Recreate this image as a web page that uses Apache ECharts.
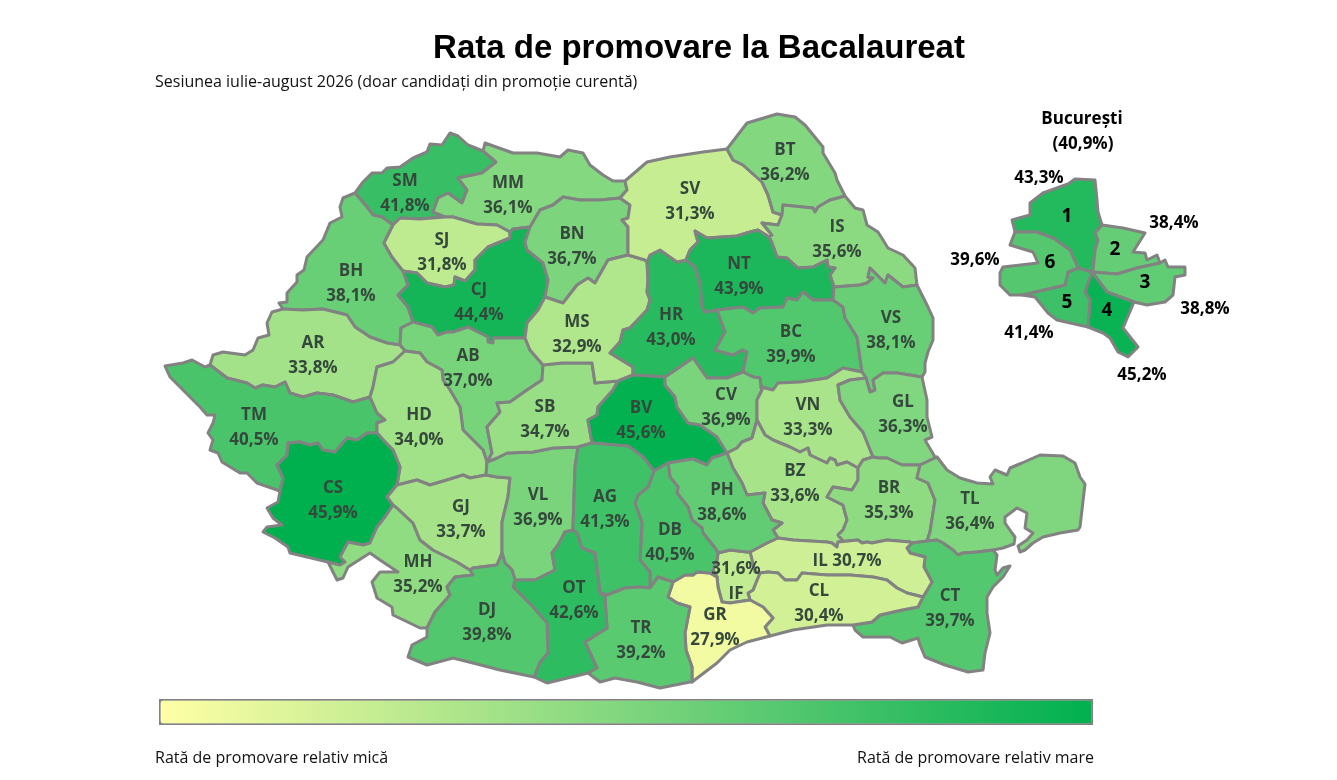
<!DOCTYPE html>
<html><head><meta charset="utf-8">
<style>html,body{margin:0;padding:0;background:#fff}#c{width:1337px;height:780px}</style>
<script src="https://cdn.jsdelivr.net/npm/echarts@6/dist/echarts.min.js"></script>
</head><body><div id="c"></div>
<script>
// ---------- values ----------
const counties = ['SM','MM','SJ','BH','CJ','BN','SV','BT','IS','NT','HR','MS','BC','VS','AR','AB','TM','HD','SB','BV','CV','VN','GL','CS','GJ','VL','AG','DB','PH','BZ','BR','TL','MH','OT','DJ','TR','GR','CL','CT','IL','IF'];
const countyRates = [41.8,36.1,31.8,38.1,44.4,36.7,31.3,36.2,35.6,43.9,43.0,32.9,39.9,38.1,33.8,37.0,40.5,34.0,34.7,45.6,36.9,33.3,36.3,45.9,33.7,36.9,41.3,40.5,38.6,33.6,35.3,36.4,35.2,42.6,39.8,39.2,27.9,30.4,39.7,30.7,31.6];
const sectors = ['1','2','3','4','5','6'];
const sectorRates = [43.3,38.4,38.8,45.2,41.4,39.6];
const bucharestRate = 40.9;
const scaleColors = ['#ffffa6','#c0eb90','#7fd67e','#40c168','#00b04f'];

// ---------- map geometry (borders between regions, in a flipped plane) ----------
const borders = {
SMo:'355,193 363,182 372,173 382,173 387,168 400,167 413,158 427,152 430,144 442,145 450,133 458,136 468,145 483,151',
SMMM:'483,151 496,162 482,173 458,178 467,190 462,203 448,193 438,198 433,212 445,217',
SMSJ:'445,217 420,219 400,218 393,225',
SMBH:'393,225 382,217 373,215 367,207 355,193',
BHo:'355,193 343,198 340,207 342,217 330,223 323,240 307,257 304,270 297,275 297,282 287,293 287,302 279,303 283,309',
BHAR:'283,309 303,310 323,309 347,315 355,327 370,337 387,343 400,345',
BHAB:'400,345 401,328 413,322',
BHCJ:'413,322 408,307 398,295 408,285 403,271',
BHSJ:'403,271 392,257 384,243 393,225',
SJCJ:'403,271 417,273 427,283 445,287 454,285 455,277 465,281 475,270 475,260 488,247 510,238 510,232',
SJMM:'445,217 453,217 477,224 497,225 510,232',
CJMM:'510,232 513,229 530,227',
CJBN:'530,227 525,242 527,250 543,263 548,280 545,297',
CJMS:'545,297 538,310 527,323 525,338',
CJAB:'525,338 513,338 493,338 493,343 488,342 488,337 468,327 453,332 447,332 438,335 432,327 417,323 413,322',
ABMS:'525,338 530,350 543,365',
ABSB:'543,365 542,380 527,390 510,402 497,403 500,412 487,427 492,453 487,462',
ABHD:'405,351 420,353 427,362 442,370 443,380 450,390 460,407 463,430 483,450 487,462',
ARAB:'400,345 405,351',
ARo:'283,309 272,312 267,323 269,335 258,338 253,350 245,355 223,352 213,355 210,365',
ARTM:'210,365 227,378 247,383 255,388 263,385 275,387 285,382 290,393 303,397 317,393 333,395 353,402 370,397',
ARHD:'370,397 373,387 377,367 393,362 405,351',
TMo:'210,365 205,367 192,360 183,363 165,366 170,377 180,387 193,400 200,407 207,415 215,415 213,423 208,433 213,440 210,450 218,453 222,462 240,473 247,473 257,483 280,491',
TMCS:'280,491 283,478 277,465 287,455 288,443 300,442 310,445 318,443 323,450 335,452 347,438 357,440 367,433 377,433',
TMHD:'377,433 377,423 385,420 377,413 370,397',
CSo:'280,491 278,502 267,508 273,518 282,525 267,527 263,532 275,538 288,547 290,553 307,557 328,562',
CSMH:'328,562 332,563 340,565 345,562 340,557 348,542 363,545 370,543 377,527 385,517 393,505',
CSGJ:'393,505 387,497 397,485',
CSHD:'397,485 400,467 393,450 385,442 377,433',
HDGJ:'397,485 417,480 430,485 447,480 463,475 470,478 486,475',
HDVL:'486,475 487,462',
SBVL:'487,462 497,458 507,453 533,452 553,448 578,447',
SBAG:'578,447 592,443',
SBBV:'592,443 588,420 597,415 598,407 613,390 618,381',
SBMS:'543,365 562,363 592,363 595,383 618,381',
MSBV:'618,381 633,375',
BVAG:'592,443 628,446 643,457 654,471',
BVDB:'654,471 668,463',
BVPH:'668,463 693,459 707,465 712,458 727,453',
BVCV:'727,453 717,437 700,425 688,423 677,407 675,397 665,385 665,377',
BVHR:'665,377 633,375',
MSBN:'545,297 563,303 577,285 588,278 595,283 608,260 628,255',
MSSV:'628,255 645,260 647,262',
MSHR:'647,262 648,280 647,292 650,300 647,310 630,328 623,330 620,342 610,353 633,367 633,375',
HRSV:'647,262 650,255 660,250 677,262 686,260',
HRNT:'686,260 695,267 700,283 702,307 705,312 717,310',
HRBC:'717,310 725,332 715,350 733,355 742,350 747,352 743,372',
HRCV:'743,372 727,378 707,378 693,358 680,367 665,377',
SVo:'625,181 647,162 670,157 703,152 727,149',
SVBT:'727,149 733,160 743,165 762,182 768,195 773,212 782,215',
SVIS:'782,215 778,225 762,223 772,235 769,237',
SVNT:'769,237 758,230 750,232 737,236 707,238 695,231 698,242 690,250 686,260',
MMSV:'625,181 627,190 620,198',
SVBN:'620,198 630,205 628,218 622,220 628,227 628,255',
MMo:'483,151 485,143 513,153 537,153 560,157 568,150 583,153 590,165 603,175 613,181 625,181',
MMBN:'530,227 540,210 553,205 563,197 580,200 600,200 620,198',
BTo:'727,149 747,123 777,114 795,117 805,125 823,147 823,153 835,173 837,180 845,196',
BTIS:'845,196 838,198 830,200 818,207 815,212 813,208 783,205 782,215',
ISo:'845,196 855,208 863,210 867,225 878,232 888,248 903,255 915,268 917,285',
ISVS:'917,285 903,287 888,275 885,283 870,268 868,277 873,278 867,283 860,285 834,287',
ISNT:'834,287 830,275 835,268 828,267 827,260 813,267 798,268 787,258 777,257 772,243 769,237',
NTVS:'834,287 833,300',
NTBC:'833,300 813,300 803,292 797,300 787,298 783,307 760,308 753,313 743,307 717,310',
BCVS:'833,300 843,307 845,318 857,337 862,372',
BCVN:'862,372 843,368 827,378 800,382 778,383 773,390 761,387',
BCCV:'761,387 760,378 753,377 743,372',
VSVN:'862,372 866,378',
VNGL:'866,378 850,380 838,385 840,400 850,417 863,432 873,457',
VSGL:'866,378 870,392 875,390 873,380 883,373 897,373 922,377',
VSo:'917,285 928,307 933,318 933,340 928,352 925,363 925,372 922,377',
GLo:'922,377 927,400 927,417 932,437 925,440 935,457 937,457',
GLTL:'937,457 920,465',
GLBR:'920,465 902,465 887,458 878,458 873,457',
CVVN:'761,387 762,390 757,400 757,420',
CVBZ:'757,420 752,438 742,442 737,448 727,453',
VNBZ:'757,420 765,435 773,440 790,447 800,452 808,448 810,455 827,463 830,458 835,460 837,465 847,462 858,468',
VNBR:'858,468 863,460 873,457',
BZBR:'858,468 858,480 852,490 833,487 827,497 843,505 847,520 843,530 838,535 845,543 837,547',
BZIL:'837,547 832,543 827,542 793,540 778,538',
BZPH:'778,538 773,530 782,523 772,520 763,503 765,493 747,495 742,483 733,468 727,453',
BRIL:'837,547 838,542 858,540 862,543 867,542 872,543 887,540 910,542 912,543',
BRCT:'912,543 927,541',
BRTL:'927,541 930,532 935,500 928,483 917,478 920,465',
TLo:'937,457 947,470 960,478 977,483 993,484 990,477 995,470 1007,475 1010,468 1022,463 1040,455 1063,456 1075,463 1080,477 1085,484 1080,527 1078,530 1060,533 1043,537 1033,543 1025,550 1020,552 1018,546 1027,540 1033,533 1025,528 1027,513 1017,508 1005,517 1005,523 1012,533 1015,537 1014,544 1003,548 993,550',
TLCT:'993,550 977,552 963,553 958,555 953,550 943,543 937,540 927,541',
CTIL:'912,543 907,548 910,553 925,557 924,567 932,582 923,597',
CTCL:'923,597 918,607 902,610 880,615 872,622 853,625',
CTo:'853,625 855,630 863,637 890,637 902,643 918,638 920,645 925,657 945,665 968,672 983,670 985,653 990,633 987,613 987,597 993,587 1003,577 1010,566 1003,568 997,575 995,570 997,555 993,550',
ILCL:'923,597 907,593 897,588 887,580 873,577 850,575 827,575 802,573 797,580 785,580 778,573 768,572 760,573',
ILPH:'778,538 767,543 750,552',
ILIF:'750,552 755,572 760,573',
CLIF:'760,573 757,580 753,590 748,593 750,600',
CLGR:'750,600 763,607 773,618 765,627 770,636',
CLo:'770,636 793,630 827,625 853,625',
GRo:'770,636 747,642 730,650 717,663 692,682',
GRTR:'692,682 692,667 686,650 685,633 690,607 677,603 668,597 673,582',
GRDB:'673,582 685,575 693,575 697,572 710,573 717,577',
GRIF:'717,577 718,587 722,602 730,603 750,600',
DBIF:'717,577 713,570 717,560 718,553',
IFPH:'718,553 730,550 747,552 750,552',
DBPH:'718,553 715,548 703,533 702,528 692,520 688,507 677,493 678,487 670,477 668,463',
AGDB:'654,471 648,487 638,495 635,503 642,523 640,560 650,572 650,588',
DBTR:'650,588 658,577 673,582',
AGTR:'650,588 640,587 625,588 607,595 600,593',
AGOT:'600,593 595,553 582,548 577,533 573,530',
AGVL:'578,447 575,467 573,527 573,530',
OTVL:'573,530 565,532 558,545 552,553 555,570 535,580 515,580',
VLGJ:'486,475 497,477 510,478 508,497 502,522 502,553',
VLDJ:'502,553 505,563 512,570 515,580',
GJDJ:'502,553 497,565 473,568 470,570',
GJMH:'470,570 457,562 433,550 420,540 413,523 397,508 393,505',
MHDJ:'470,570 473,575 455,577 447,587 450,595 435,612 427,628',
MHo:'328,562 332,570 337,580 343,578 348,567 370,553 380,560 398,572 380,572 372,582 377,598 392,607 393,615 420,628 427,628',
DJo:'427,628 427,637 412,645 408,657 427,665 453,658 473,663 500,670 534,677',
DJOT:'534,677 540,662 548,653 547,623 533,607 513,587 515,580',
OTo:'534,677 547,683 580,675 588,673',
OTTR:'600,593 605,597 607,628 585,642 597,668 588,673',
TRo:'588,673 600,682 615,678 637,682 660,688 690,682 692,682',
S1o:'1015,232 1012,220 1030,215 1030,203 1043,193 1068,184 1075,179 1095,180 1097,200 1098,212 1102,225',
S12:'1102,225 1095,233 1098,240 1095,250 1093,270 1092,272',
S16:'1078,268 1070,250 1053,238 1037,232 1015,232',
S15c:'1078,268 1092,272',
S2o:'1102,225 1123,228 1145,233 1133,252 1145,253 1147,260 1157,255 1160,263',
S23:'1160,263 1137,268 1117,274 1092,272',
S3o:'1160,263 1165,260 1168,267 1178,267 1185,267 1185,275 1175,277 1173,295 1165,302 1147,305 1134,302',
S34:'1134,302 1107,292 1098,280 1092,272',
S4o:'1134,302 1123,328 1138,347 1128,357 1118,352 1110,338 1103,333 1088,327',
S45:'1088,327 1090,300 1085,292 1092,272',
S5o:'1088,327 1057,320 1048,313 1035,297 1022,295',
S56:'1022,295 1065,285 1068,272 1078,268',
S6o:'1022,295 1010,295 1000,285 1000,273 1003,267 1038,263 1033,252 1010,245 1015,232'
};
const rings = {
SM:'SMo SMMM SMSJ SMBH', BH:'BHo BHAR BHAB BHCJ BHSJ SMBH', MM:'MMo MMSV MMBN CJMM SJMM SMMM', SJ:'SMSJ SJMM SJCJ BHSJ',
CJ:'BHCJ SJCJ CJMM CJBN CJMS CJAB', BN:'MMBN SVBN MSBN CJBN', AB:'BHAB CJAB ABMS ABSB ABHD ARAB', AR:'ARo ARTM ARHD ARAB BHAR',
TM:'TMo TMCS TMHD ARTM', HD:'ARHD ABHD HDVL HDGJ CSHD TMHD', CS:'TMCS CSHD CSGJ CSMH CSo', MH:'CSMH GJMH MHDJ MHo',
GJ:'HDGJ VLGJ GJDJ GJMH CSGJ', VL:'HDVL SBVL AGVL OTVL VLDJ VLGJ', SB:'ABSB SBVL SBAG SBBV SBMS', MS:'CJMS MSBN MSSV MSHR MSBV SBMS ABMS',
HR:'HRSV HRNT HRBC HRCV BVHR MSHR', BV:'SBBV MSBV BVHR BVCV BVPH BVDB BVAG', SV:'SVo SVBT SVIS SVNT HRSV MSSV SVBN MMSV', BT:'BTo BTIS SVBT',
IS:'BTIS ISo ISVS ISNT SVIS', NT:'SVNT ISNT NTVS NTBC HRNT', BC:'NTBC BCVS BCVN BCCV HRBC', VS:'ISVS VSo VSGL VSVN BCVS NTVS',
CV:'BVCV HRCV BCCV CVVN CVBZ', VN:'BCVN VSVN VNGL VNBR VNBZ CVVN', GL:'VSGL GLo GLTL GLBR VNGL', BZ:'CVBZ VNBZ BZBR BZIL BZPH',
BR:'VNBR GLBR BRTL BRCT BRIL BZBR', TL:'GLTL TLo TLCT BRTL', CT:'BRCT TLCT CTo CTCL CTIL', IL:'BZIL BRIL CTIL ILCL ILIF ILPH',
CL:'ILCL CTCL CLo CLGR CLIF', IF:'IFPH ILIF CLIF GRIF DBIF', GR:'GRDB GRIF CLGR GRo GRTR', PH:'BVPH BZPH ILPH IFPH DBPH',
DB:'BVDB DBPH DBIF GRDB DBTR AGDB', AG:'SBAG BVAG AGDB AGTR AGOT AGVL', TR:'DBTR GRTR TRo OTTR AGTR', OT:'AGOT OTTR OTo DJOT OTVL',
DJ:'GJDJ VLDJ DJOT DJo MHDJ',
'1':'S1o S12 S15c S16','2':'S2o S23 S12','3':'S3o S34 S23','4':'S4o S45 S34','5':'S5o S56 S15c S45','6':'S6o S16 S56'
};
const labelAnchors = {
SM:[405,193.5],MM:[508,195.5],SJ:[442,252.5],BH:[351,283.5],CJ:[479,302.5],BN:[572,246.5],SV:[690,201.5],BT:[785,162.5],IS:[837,239.5],NT:[739,276.5],HR:[671,327.5],MS:[577,334.5],BC:[791,344.5],VS:[891,330.5],AR:[313,355.5],AB:[468,368.5],TM:[254,427.5],HD:[419,427.5],SB:[545,419.5],BV:[641,420.5],CV:[726,407.5],VN:[808,417.5],GL:[903,414.5],CS:[333,500.5],GJ:[461,519.5],VL:[538,507.5],AG:[605,509.5],DB:[670,542.5],PH:[722,502.5],BZ:[795,483.5],BR:[889,500.5],TL:[970,511.5],MH:[418,574.5],OT:[574,600.5],DJ:[487,622.5],TR:[641,640.5],GR:[715,627.5],CL:[819,603.5],CT:[950,608.5],IL:[847,561],IF:[736,581.5],
'1':[1067,217],'2':[1115,250],'3':[1145,283],'4':[1107,311],'5':[1067,303],'6':[1050,263]
};
const sectorRateAnchors = [[1039,178],[1174,223],[1205,309],[1142,375],[1029,333],[975,260]];

// ---------- build ----------
const parseArc = s => s.split(' ').map(p => p.split(',').map(Number));
const same = (a,b) => a[0]===b[0] && a[1]===b[1];
function buildRing(name){
  const arcs = rings[name].split(' ').map(k => { if(!borders[k]) throw new Error('arc '+k); return parseArc(borders[k]); });
  let cur = arcs[0].slice();
  const n1 = arcs[1];
  if (same(cur[0],n1[0]) || same(cur[0],n1[n1.length-1])) {
    if (!(same(cur[cur.length-1],n1[0]) || same(cur[cur.length-1],n1[n1.length-1]))) cur.reverse();
  }
  const out = cur.slice();
  for (let i=1;i<arcs.length;i++){
    let a = arcs[i].slice();
    const end = out[out.length-1];
    if (same(a[a.length-1],end)) a.reverse();
    else if (!same(a[0],end)) throw new Error('gap in '+name+' at '+rings[name].split(' ')[i]);
    out.push(...a.slice(1));
  }
  return out.map(p => [p[0],-p[1]]);
}
const geo = {type:'FeatureCollection',features:Object.keys(rings).map(name => ({
  type:'Feature',
  properties:{name, cp:[labelAnchors[name][0],-labelAnchors[name][1]]},
  geometry:{type:'Polygon',coordinates:[buildRing(name)]}
}))};
echarts.registerMap('ro',geo);

const fmt = v => v.toFixed(1).replace('.',',')+'%';
const rateOf = {};
counties.forEach((c,i)=>rateOf[c]=countyRates[i]);
sectors.forEach((c,i)=>rateOf[c]=sectorRates[i]);
const mapData = Object.keys(rateOf).map(name=>{
  const item = {name,value:rateOf[name]};
  if (sectors.includes(name)) item.label = {color:'#000',fontSize:19};
  return item;
});
const view = {left:0,top:0,width:1337,height:780,aspectScale:1,boundingCoords:[[0,0],[1337,-780]],roam:false};
const FONT = '"Open Sans","Noto Sans",sans-serif';
const txt = (text,x,y,font,align,fill) => ({type:'text',x,y,silent:true,style:{text,font,textAlign:align,textVerticalAlign:'middle',fill:fill||'#111'}});

const chart = echarts.init(document.getElementById('c'));
chart.setOption({
  animation:false,
  backgroundColor:'#fff',
  geo:Object.assign({map:'ro',silent:true,itemStyle:{areaColor:'transparent',borderWidth:0},label:{show:false},emphasis:{disabled:true}},view),
  visualMap:{type:'continuous',min:27,max:45.9,orient:'horizontal',calculable:false,realtime:false,hoverLink:false,
    seriesIndex:0,left:159,top:699,itemWidth:23,itemHeight:931,padding:0,text:null,showLabel:false,
    borderColor:'#828282',borderWidth:3,inRange:{color:scaleColors}},
  series:[
    Object.assign({type:'map',map:'ro',silent:true,data:mapData,z:2,
      itemStyle:{borderColor:'#828282',borderWidth:3,borderJoin:'round'},
      label:{show:true,color:'#35483c',fontFamily:FONT,fontWeight:'bold',fontSize:17,lineHeight:24.5,
        formatter:p=>{
          if(sectors.includes(p.name)) return p.name;
          if(p.name==='IL') return p.name+' '+fmt(p.value);
          if(p.name==='IF') return fmt(p.value)+'\n'+p.name;
          return p.name+'\n'+fmt(p.value);
        }}
    },view),
    {type:'scatter',coordinateSystem:'geo',silent:true,symbolSize:0,z:5,itemStyle:{opacity:1},
      data:sectorRates.map((v,i)=>({value:[sectorRateAnchors[i][0],-sectorRateAnchors[i][1],v]})),
      label:{show:true,position:'inside',color:'#000',fontFamily:FONT,fontWeight:'bold',fontSize:17,formatter:p=>fmt(p.value[2])}}
  ],
  graphic:[
    txt('Rata de promovare la Bacalaureat',699,49,'bold 33px "Liberation Sans",Arial,sans-serif','center','#000'),
    txt('Sesiunea iulie-august 2026 (doar candidați din promoție curentă)',155,82,'16px '+FONT,'left'),
    txt('București',1082,119,'bold 17px '+FONT,'center','#000'),
    txt('('+fmt(bucharestRate)+')',1083,144,'bold 17px '+FONT,'center','#000'),
    txt('Rată de promovare relativ mică',155,758,'16px '+FONT,'left'),
    txt('Rată de promovare relativ mare',1094,758,'16px '+FONT,'right')
  ]
});
</script></body></html>
